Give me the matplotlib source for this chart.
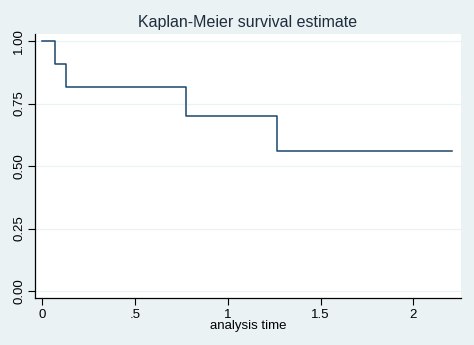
import matplotlib
matplotlib.use("Agg")
import matplotlib.pyplot as plt

# Kaplan-Meier step estimate
times = [0, 0.07, 0.129, 0.776, 1.265, 2.207]
surv = [1.0, 0.909, 0.818, 0.701, 0.561, 0.561]

yticks = [0, 0.25, 0.5, 0.75, 1.0]
ytick_labels = ["0.00", "0.25", "0.50", "0.75", "1.00"]
xticks = [0, 0.5, 1, 1.5, 2]
xtick_labels = ["0", ".5", "1", "1.5", "2"]

bg = "#EAF2F3"
line_color = "#1A476F"

plt.rcParams["font.family"] = ["Liberation Sans", "DejaVu Sans"]

fig = plt.figure(figsize=(4.74, 3.45), dpi=100, facecolor=bg)
ax = fig.add_axes([35 / 474, 47 / 345, 426 / 474, 264 / 345])
ax.set_facecolor("white")

ax.step(times, surv, where="post", color=line_color, linewidth=1.1)

ax.set_xlim(-0.038, 2.256)
ax.set_ylim(-0.028, 1.028)

ax.set_yticks(yticks)
ax.set_yticklabels(ytick_labels, rotation=90, va="center")
ax.set_xticks(xticks)
ax.set_xticklabels(xtick_labels)
ax.tick_params(axis="both", labelsize=9.5, length=5, width=0.8, color="black", pad=3)
ax.tick_params(axis="y", pad=2)

# faint horizontal grid like Stata's
ax.grid(axis="y", color=bg, linewidth=0.9)
ax.set_axisbelow(True)

for side in ["top", "right"]:
    ax.spines[side].set_visible(False)
ax.spines["left"].set_linewidth(0.9)
ax.spines["bottom"].set_linewidth(0.9)

ax.set_xlabel("analysis time", fontsize=9.5, labelpad=-1)
fig.text(248 / 474, 1 - 22 / 345, "Kaplan-Meier survival estimate",
         ha="center", va="center", fontsize=11.5, color="#1E2D3E")

fig.savefig("out.png", dpi=100, facecolor=bg)
